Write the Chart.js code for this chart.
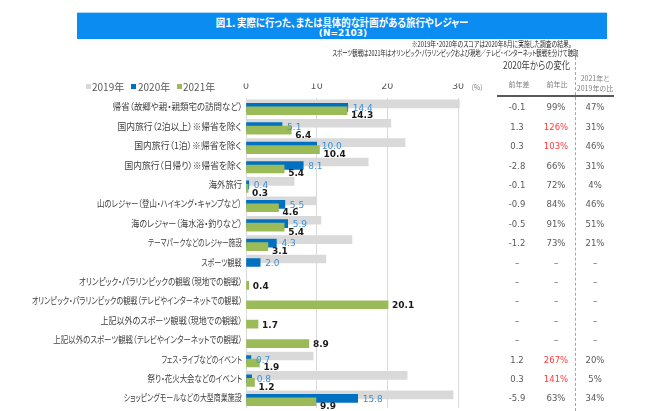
<!DOCTYPE html>
<html><head><meta charset="utf-8">
<script src="https://cdn.jsdelivr.net/npm/chart.js@4"></script>
<style>
html,body{margin:0;padding:0;background:#fff;}
#wrap{position:relative;width:650px;height:411px;overflow:hidden;font-family:"Noto Sans CJK JP",sans-serif;}
#c{position:absolute;left:0;top:0;}
.t{position:absolute;white-space:nowrap;font-feature-settings:"palt";line-height:1;}
#band{position:absolute;left:77px;top:12px;width:530px;height:26px;background:#0a8cf0;border-top:1px solid #a9d6fb;}
.cat{font-size:9.5px;color:#404040;transform-origin:100% 50%;}
.tv{font-family:"DejaVu Sans",sans-serif;font-size:8.5px;color:#595959;transform:translate(-50%,-50%);}
.red{color:#ff3b3b;}
.lg{font-size:10px;color:#595959;transform:translateY(-50%);}
.sq{position:absolute;width:5px;height:5px;}
</style></head><body>
<div id="wrap">
<canvas id="c" width="650" height="411"></canvas>
<div id="band"></div>
<div class="t" id="title" style="left:342px;top:16.5px;color:#fff;font-weight:bold;font-size:11px;">図１．実際に行った、または具体的な計画がある旅行やレジャー</div>
<div class="t" style="left:343px;top:29px;transform:translateX(-50%);color:#fff;font-weight:bold;font-size:9px;font-family:'DejaVu Sans',sans-serif;">(N=2103)</div>
<div class="t" id="note1" style="right:78px;top:40px;color:#262626;font-size:7.5px;">※2019年・2020年のスコアは2020年8月に実施した調査の結果。</div>
<div class="t" id="note2" style="right:72px;top:49px;color:#262626;font-size:7.5px;">スポーツ観戦は2021年はオリンピック・パラリンピックおよび現地／テレビ・インターネット観戦を分けて聴取</div>
<div class="t" id="hdr" style="left:503px;top:60px;color:#404040;font-size:10px;">2020年からの変化</div>
<div class="t" style="left:519px;top:84px;transform:translate(-50%,-50%);color:#7f7f7f;font-size:7px;">前年差</div>
<div class="t" style="left:557px;top:84px;transform:translate(-50%,-50%);color:#7f7f7f;font-size:7px;">前年比</div>
<div class="t" style="left:595px;top:78px;transform:translate(-50%,-50%);color:#7f7f7f;font-size:7px;">2021年と</div>
<div class="t" style="left:595px;top:88px;transform:translate(-50%,-50%);color:#7f7f7f;font-size:7px;">2019年の比</div>
<div style="position:absolute;left:575px;top:57px;width:0;height:354px;border-left:1px dashed #a6a6a6;"></div>
<div style="position:absolute;left:497px;top:95px;width:117px;height:0;border-top:2px solid #595959;"></div>
<div class="t" style="left:477px;top:86.5px;transform:translate(-50%,-50%);color:#7f7f7f;font-size:7px;">(%)</div>
</div>
<script>
const categories = [
  "帰省（故郷や親・親類宅の訪問など）",
  "国内旅行（2泊以上）※帰省を除く",
  "国内旅行（1泊）※帰省を除く",
  "国内旅行（日帰り）※帰省を除く",
  "海外旅行",
  "山のレジャー（登山・ハイキング・キャンプなど）",
  "海のレジャー（海水浴・釣りなど）",
  "テーマパークなどのレジャー施設",
  "スポーツ観戦",
  "オリンピック・パラリンピックの観戦（現地での観戦）",
  "オリンピック・パラリンピックの観戦（テレビやインターネットでの観戦）",
  "上記以外のスポーツ観戦（現地での観戦）",
  "上記以外のスポーツ観戦（テレビやインターネットでの観戦）",
  "フェス・ライブなどのイベント",
  "祭り・花火大会などのイベント",
  "ショッピングモールなどの大型商業施設"
];
const seriesNames = ["2019年", "2020年", "2021年"];
const values2019 = [30.2, 20.5, 22.5, 17.3, 6.8, 10.0, 10.6, 15.0, 11.3, null, null, null, null, 9.5, 22.8, 29.3];
const values2020 = [14.4, 5.1, 10.0, 8.1, 0.4, 5.5, 5.9, 4.3, 2.0, null, null, null, null, 0.7, 0.8, 15.8];
const values2021 = [14.3, 6.4, 10.4, 5.4, 0.3, 4.6, 5.4, 3.1, null, 0.4, 20.1, 1.7, 8.9, 1.9, 1.2, 9.9];
const diffPrev  = ["-0.1","1.3","0.3","-2.8","-0.1","-0.9","-0.5","-1.2","–","–","–","–","–","1.2","0.3","-5.9"];
const ratioPrev = ["99%","126%","103%","66%","72%","84%","91%","73%","–","–","–","–","–","267%","141%","63%"];
const ratio2019 = ["47%","31%","46%","31%","4%","46%","51%","21%","–","–","–","–","–","20%","5%","34%"];
const xTicks = [0, 10, 20, 30];

const colors = ["#d9d9d9", "#0070c0", "#9bbb59"];
const OFF = 0.18;
function toPoints(arr, off) {
  return arr.map((v, i) => ({x: v, y: i + off, i: i})).filter(p => p.x !== null);
}

const labelPlugin = {
  id: 'vlabels',
  afterDatasetsDraw(chart) {
    const ctx = chart.ctx;
    ctx.save();
    ctx.textBaseline = 'middle';
    ctx.textAlign = 'left';
    const m1 = chart.getDatasetMeta(1);
    ctx.font = '9px "DejaVu Sans"';
    ctx.fillStyle = '#3a8fd9';
    m1.data.forEach((el, j) => {
      const raw = chart.data.datasets[1].data[j];
      ctx.fillText(raw.x.toFixed(1), el.x + 5, el.y + 1);
    });
    const m2 = chart.getDatasetMeta(2);
    ctx.font = 'bold 9px "DejaVu Sans"';
    ctx.fillStyle = '#1a1a1a';
    m2.data.forEach((el, j) => {
      const raw = chart.data.datasets[2].data[j];
      const has2020 = values2020[raw.i] !== null;
      ctx.fillText(raw.x.toFixed(1), el.x + 4, el.y + (has2020 ? 5 : 1));
    });
    ctx.restore();
  }
};

const chart = new Chart(document.getElementById('c'), {
  type: 'bar',
  data: {
    datasets: [
      {label: seriesNames[0], data: toPoints(values2019, -OFF), backgroundColor: colors[0], order: 3, clip: false},
      {label: seriesNames[1], data: toPoints(values2020, 0), backgroundColor: colors[1], order: 2},
      {label: seriesNames[2], data: toPoints(values2021, OFF), backgroundColor: colors[2], order: 1}
    ]
  },
  options: {
    indexAxis: 'y',
    responsive: false,
    animation: false,
    events: [],
    datasets: {bar: {grouped: false, barThickness: 8, borderWidth: 0}},
    layout: {padding: {left: 246, right: 192, top: 83.6, bottom: 3}},
    plugins: {legend: {display: false}, tooltip: {enabled: false}},
    scales: {
      x: {
        type: 'linear', position: 'top', min: 0, max: 30,
        afterBuildTicks: s => { s.ticks = xTicks.map(v => ({value: v})); },
        afterFit: s => { s.height = 14; },
        ticks: {color: '#595959', font: {family: 'DejaVu Sans', size: 9.5}, padding: 5},
        grid: {color: '#d9d9d9', drawTicks: false, lineWidth: 1},
        border: {display: false}
      },
      y: {type: 'linear', min: -0.5, max: 15.5, reverse: true, offset: false, display: false, grid: {offset: false}}
    }
  },
  plugins: [labelPlugin]
});

// Width model of the original UI font (narrow kana), in em units.
function emUnits(s) {
  let w = 0;
  for (const ch of s) {
    const c = ch.codePointAt(0);
    if ("ぁぃぅぇぉっゃゅょァィゥェォッャュョ".includes(ch)) w += 0.55;
    else if (c >= 0x3040 && c <= 0x309F) w += 0.72;
    else if (ch === "ー") w += 0.8;
    else if (c >= 0x30A0 && c <= 0x30FF) w += 0.7;
    else if (c < 0x80) w += (ch === " " ? 0.3 : 0.55);
    else w += 1;
  }
  return w;
}
function fit(el, em, pre) {
  const nat = el.offsetWidth;
  const s = Math.min(1.2, (emUnits(el.textContent) * em) / nat);
  el.style.transform = (pre || '') + ' scaleX(' + s.toFixed(3) + ')';
}

const wrap = document.getElementById('wrap');
const ys = chart.scales.y;
function addDiv(cls, text, style) {
  const d = document.createElement('div');
  d.className = 't ' + cls;
  d.textContent = text;
  Object.assign(d.style, style);
  wrap.appendChild(d);
  return d;
}
categories.forEach((c, i) => {
  const y = ys.getPixelForValue(i);
  const d = addDiv('cat', c, {right: (650 - 242) + 'px', top: y + 'px'});
  fit(d, 8.3, 'translateY(-50%)');
  addDiv('tv', diffPrev[i], {left: '517px', top: y + 'px'});
  const r = addDiv('tv', ratioPrev[i], {left: '556px', top: y + 'px'});
  if (parseInt(ratioPrev[i]) > 100) r.classList.add('red');
  addDiv('tv', ratio2019[i], {left: '595px', top: y + 'px'});
});

const title = document.getElementById('title');
title.style.transformOrigin = '50% 50%';
fit(title, 10.3, 'translateX(-50%)');
const n1 = document.getElementById('note1');
n1.style.transformOrigin = '100% 50%';
fit(n1, 6.1);
const n2 = document.getElementById('note2');
n2.style.transformOrigin = '100% 50%';
fit(n2, 6.3);
const hdr = document.getElementById('hdr');
hdr.style.transformOrigin = '0 50%';
fit(hdr, 9.1);

const lgPos = [[86, 92], [131, 138], [177, 183]];
seriesNames.forEach((n, k) => {
  const sq = document.createElement('div');
  sq.className = 'sq';
  Object.assign(sq.style, {left: lgPos[k][0] + 'px', top: '84px', background: colors[k]});
  wrap.appendChild(sq);
  addDiv('lg', n, {left: lgPos[k][1] + 'px', top: '86.5px'});
});
</script>
</body></html>
